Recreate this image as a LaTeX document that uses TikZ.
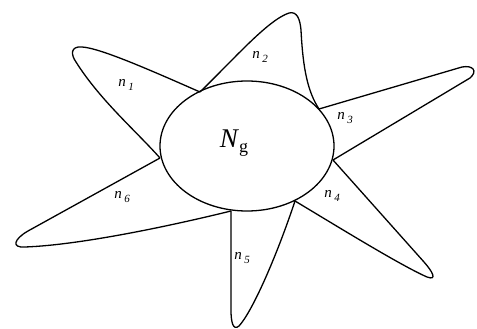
\documentclass[tikz,border=0pt]{standalone}
\usepackage{fontspec}
\setmainfont{Liberation Serif}
\usetikzlibrary{shapes.geometric}
\begin{document}
\begin{tikzpicture}[x=1pt,y=-1pt,
  outline/.style={draw=black,line width=1.3pt,line join=round},
  lbl/.style={inner sep=0pt,font=\fontsize{15}{17}\selectfont},
  bigl/.style={inner sep=0pt,font=\fontsize{27}{30}\selectfont}]
\useasboundingbox (0,0) rectangle (477,329);
% attach points
\coordinate (A1) at (200,92);
\coordinate (A2) at (319,109);
\coordinate (A3) at (333,160);
\coordinate (A4) at (295,201);
\coordinate (A5) at (231,211);
\coordinate (A6) at (160,158);
% central body
\node[outline,ellipse,minimum width=174pt,minimum height=130pt,inner sep=0pt] (core) at (247,146) {};
% petals
\draw[outline] (A1) .. controls (150,70) and (100,48) .. (82,47)
  .. controls (70,46) and (71,55) .. (76,62)
  .. controls (100,100) and (135,130) .. (A6);
\draw[outline] (A1) .. controls (235,58) and (268,20) .. (289,13)
  .. controls (297,11) and (300,19) .. (301,30)
  .. controls (303,70) and (308,92) .. (A2);
\draw[outline] (A2) -- (462,67) .. controls (473,65) and (478,71) .. (470,78) -- (A3);
\draw[outline] (A3) -- (424,262) .. controls (432,271) and (438,281) .. (427,277)
  .. controls (400,265) and (340,228) .. (A4);
\draw[outline] (A4) .. controls (276,258) and (252,312) .. (239,326)
  .. controls (233,331) and (231,322) .. (231,310) -- (A5);
\draw[outline] (A6) -- (28,231) .. controls (14,239) and (11,248) .. (25,247)
  .. controls (80,245) and (170,226) .. (A5);
% labels
\node[bigl] (ng) at (234,143) {\textit{N}\raisebox{-0.45ex}{\fontsize{18}{20}\selectfont g}};
\node[lbl] (l1) at (126,85) {\textit{n}\,\raisebox{-0.45ex}{\fontsize{11}{13}\selectfont\textit{1}}};
\node[lbl] (l2) at (260,57) {\textit{n}\,\raisebox{-0.45ex}{\fontsize{11}{13}\selectfont\textit{2}}};
\node[lbl] (l3) at (345,118) {\textit{n}\,\raisebox{-0.45ex}{\fontsize{11}{13}\selectfont\textit{3}}};
\node[lbl] (l4) at (332,196) {\textit{n}\,\raisebox{-0.45ex}{\fontsize{11}{13}\selectfont\textit{4}}};
\node[lbl] (l5) at (242,258) {\textit{n}\,\raisebox{-0.45ex}{\fontsize{11}{13}\selectfont\textit{5}}};
\node[lbl] (l6) at (122,197) {\textit{n}\,\raisebox{-0.45ex}{\fontsize{11}{13}\selectfont\textit{6}}};
\end{tikzpicture}
\end{document}
